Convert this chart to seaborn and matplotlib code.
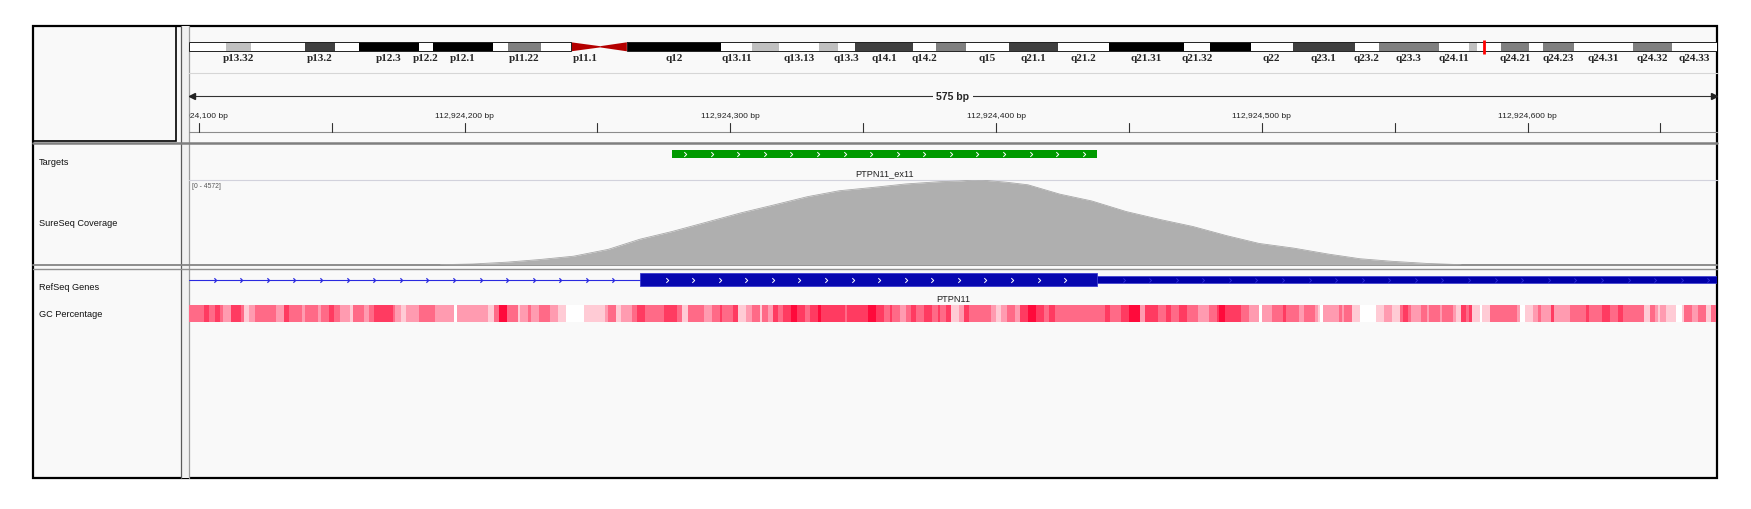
import numpy as np
import matplotlib
matplotlib.use("Agg")
import matplotlib.pyplot as plt
from matplotlib.patches import Rectangle, Polygon
from matplotlib.path import Path
import seaborn as sns

W, H = 1751, 510

# current view on chr12 (bp)
view_start = 112924096.3
view_end = 112924671.3
chrom_len_mb = 133.27

# chr12 cytobands (start in Mb, end = next start)
band_names = ["p13.33", "p13.32", "p13.31", "p13.2", "p13.1", "p12.3", "p12.2", "p12.1",
              "p11.23", "p11.22", "p11.21", "p11.1", "q11", "q12", "q13.11", "q13.12",
              "q13.13", "q13.2", "q13.3", "q14.1", "q14.2", "q14.3", "q15", "q21.1",
              "q21.2", "q21.31", "q21.32", "q21.33", "q22", "q23.1", "q23.2", "q23.3",
              "q24.11", "q24.12", "q24.13", "q24.21", "q24.22", "q24.23", "q24.31",
              "q24.32", "q24.33"]
band_start_mb = [0, 3.27, 5.37, 10.08, 12.77, 14.79, 20.02, 21.26, 26.52, 27.80, 30.68,
                 33.33, 35.86, 38.19, 46.41, 49.11, 51.43, 54.92, 56.58, 58.11, 63.12,
                 65.13, 67.74, 71.55, 75.77, 80.26, 86.76, 89.09, 92.60, 96.27, 101.67,
                 103.77, 109.00, 111.62, 112.36, 114.41, 116.85, 118.07, 120.83, 125.92,
                 129.32]
band_stain = ["gneg", "gpos25", "gneg", "gpos75", "gneg", "gpos100", "gneg", "gpos100",
              "gneg", "gpos50", "gneg", "acen", "acen", "gpos100", "gneg", "gpos25",
              "gneg", "gpos25", "gneg", "gpos75", "gneg", "gpos50", "gneg", "gpos75",
              "gneg", "gpos100", "gneg", "gpos100", "gneg", "gpos75", "gneg", "gpos50",
              "gneg", "gpos25", "gneg", "gpos50", "gneg", "gpos50", "gneg", "gpos50",
              "gneg"]
hidden_labels = ["p13.33", "p13.31", "p13.1", "p11.23", "p11.21", "q11", "q13.12",
                 "q13.2", "q14.3", "q21.33", "q24.12", "q24.13", "q24.22"]

stain_colors = {"gneg": "#ffffff", "gpos25": "#c0c0c0", "gpos50": "#808080",
                "gpos75": "#404040", "gpos100": "#000000", "acen": "#b40000"}

# features
target_name = "PTPN11_ex11"
target_start, target_end = 112924278, 112924438
gene_name = "PTPN11"
exon_start, exon_end = 112924266, 112924438

# coverage (offset from 112,924,100 bp, read depth)
cov_max = 4572
cov_offset = [91, 103, 116, 128, 141, 154, 166, 178, 191, 204, 216, 229, 241, 254, 266,
              279, 286, 293, 304, 312, 324, 336, 349, 362, 374, 387, 399, 412, 425, 437,
              449, 462, 475]
cov_depth = [0, 37, 137, 274, 457, 823, 1372, 1783, 2286, 2789, 3200, 3658, 3978, 4161,
             4343, 4467, 4499, 4572, 4435, 4298, 3795, 3429, 2858, 2423, 2057, 1554, 1143,
             892, 572, 320, 183, 69, 0]

# GC percentage track: (run length in bp, GC bin 0..5) from the view start
gc_runs = [
    (6, 3), (2, 4), (2, 3), (2, 4), (1, 3), (3, 2), (4, 4), (1, 3), (2, 1), (2, 2), (8, 3),
    (3, 2), (2, 4), (5, 3), (1, 2), (5, 3), (1, 2), (3, 3), (2, 4), (2, 3), (4, 2), (1, 1),
    (4, 3), (2, 2), (2, 3), (7, 4), (1, 3), (2, 2), (2, 1), (5, 2), (6, 3), (7, 2), (1, 0),
    (12, 2), (2, 1), (2, 3), (3, 5), (4, 3), (1, 1), (3, 2), (1, 3), (3, 2), (4, 3), (3, 2),
    (3, 1), (7, 0), (8, 1), (1, 2), (3, 3), (2, 1), (4, 2), (2, 3), (3, 4), (7, 3), (5, 4),
    (2, 3), (2, 1), (4, 3),
    (2, 3), (3, 2), (3, 3), (1, 4), (4, 3), (2, 4), (3, 1), (2, 2), (3, 3), (1, 1), (2, 3),
    (2, 2), (2, 4), (2, 3), (3, 4), (2, 5), (3, 4), (2, 3), (3, 4), (1, 5), (9, 4), (1, 3),
    (8, 4), (3, 5), (3, 4), (2, 3), (1, 4), (3, 3), (2, 2), (2, 3), (2, 4), (3, 3), (3, 4),
    (2, 3), (1, 4), (2, 3), (2, 4), (3, 1), (2, 2), (2, 4), (8, 3), (2, 2), (2, 1), (2, 2),
    (3, 3), (2, 2), (3, 4), (3, 5), (3, 4), (2, 3), (2, 4), (19, 3), (2, 4), (4, 3), (3, 4),
    (4, 5), (2, 2), (5, 4), (3, 3), (2, 4), (3, 3), (3, 4), (4, 3), (4, 2),
    (3, 3), (1, 4), (2, 5), (6, 4), (3, 3), (4, 2), (1, 0), (4, 2), (4, 3), (1, 4), (5, 3),
    (2, 2), (4, 3), (1, 2), (1, 1), (1, 0), (6, 2), (1, 3), (1, 2), (3, 3), (3, 1), (6, 0),
    (3, 1), (3, 2), (3, 1), (1, 3), (2, 4), (1, 3), (4, 2), (2, 3), (1, 2), (4, 3), (1, 2),
    (4, 3), (1, 2), (2, 1), (2, 4), (1, 3), (1, 4), (3, 1), (1, 0), (3, 1), (10, 3), (1, 2),
    (2, 0), (3, 1), (2, 2), (1, 3), (4, 2), (1, 4), (6, 2), (6, 3), (1, 4), (5, 3), (3, 4),
    (3, 3), (2, 4), (8, 3), (2, 1), (2, 3), (1, 2), (1, 1), (2, 2), (4, 1), (2, 0), (1, 1),
    (3, 3), (2, 2), (3, 3), (2, 1), (2, 3),
]
gc_colors = {0: "#ffffff", 1: "#ffcbd5", 2: "#ff9bb0", 3: "#ff6a87", 4: "#ff3b61", 5: "#ff0a3b"}

sns.set_style("white")
plt.rcParams["font.family"] = ["Liberation Sans", "DejaVu Sans"]

fig = plt.figure(figsize=(W / 100, H / 100), dpi=100, facecolor="white")


def px_axes(x0, y0, x1, y1):
    ax = fig.add_axes([x0 / W, 1 - y1 / H, (x1 - x0) / W, (y1 - y0) / H])
    ax.set_axis_off()
    return ax


chev = Path([(-0.5, 1), (0.5, 0), (-0.5, -1)], [Path.MOVETO, Path.LINETO, Path.LINETO])

# ---- frame / panels
bg = px_axes(0, 0, W, H)
bg.set_xlim(0, W)
bg.set_ylim(H, 0)
bg.add_patch(Rectangle((33, 27), 1684, 452, facecolor="#f9f9f9", edgecolor="black", lw=1.6))
bg.add_patch(Rectangle((33, 27), 142.5, 115, facecolor="none", edgecolor="black", lw=1.2))
bg.add_patch(Rectangle((181, 27), 7.5, 452, facecolor="#f1f1f1", edgecolor="none"))
bg.plot([180.7, 180.7], [27, 479], color="#5a5a5a", lw=0.9)
bg.plot([188.7, 188.7], [27, 479], color="#9c9c9c", lw=0.9)
bg.plot([189, 1717], [74, 74], color="#d6d6d6", lw=0.8)
bg.plot([189, 1717], [133, 133], color="#8c8c8c", lw=0.8)
bg.plot([33, 1717], [143.5, 143.5], color="#7f7f7f", lw=1.8)
bg.plot([189, 1717], [180.5, 180.5], color="#d2d2dc", lw=0.8)
bg.plot([33, 1717], [266.3, 266.3], color="#858585", lw=1.3)
bg.plot([33, 1717], [269.6, 269.6], color="#8f8f8f", lw=1.0)

for name, y in [("Targets", 162.5), ("SureSeq Coverage", 224), ("RefSeq Genes", 288),
                ("GC Percentage", 315)]:
    bg.text(39, y, name, fontsize=6.6, va="center", ha="left", color="#111111")
bg.text(192, 186.7, f"[0 - {cov_max}]", fontsize=4.9, va="center", ha="left", color="#555555")

# ---- ideogram
ax_i = px_axes(189, 27, 1717, 74)
ax_i.set_xlim(0, chrom_len_mb)
ax_i.set_ylim(74, 27)
band_end_mb = band_start_mb[1:] + [chrom_len_mb]
for name, s, e, st in zip(band_names, band_start_mb, band_end_mb, band_stain):
    if st == "acen":
        if name.startswith("p"):
            pts = [(s, 43.3), (e, 47.2), (e, 48.4), (s, 52.3)]
        else:
            pts = [(s, 47.2), (e, 43.3), (e, 52.3), (s, 48.4)]
        ax_i.add_patch(Polygon(pts, closed=True, facecolor=stain_colors[st], edgecolor="none"))
    else:
        ax_i.add_patch(Rectangle((s, 43.3), e - s, 9, facecolor=stain_colors[st], edgecolor="none"))
    if name not in hidden_labels:
        ax_i.text((s + e) / 2, 58.6, name, ha="center", va="center", fontsize=8.0,
                  family=["Liberation Serif", "DejaVu Serif"], weight="bold")
cen_s = band_start_mb[band_names.index("p11.1")]
cen_e = band_start_mb[band_names.index("q12")]
ax_i.add_patch(Rectangle((0, 43.3), cen_s, 9, fill=False, edgecolor="#222222", lw=0.7))
ax_i.add_patch(Rectangle((cen_e, 43.3), chrom_len_mb - cen_e, 9, fill=False,
                         edgecolor="#222222", lw=0.7))
view_mid_mb = (view_start + view_end) / 2 / 1e6
ax_i.plot([view_mid_mb, view_mid_mb], [41, 54.5], color="#ff0000", lw=2.0,
          solid_capstyle="butt")

# ---- genomic tracks
ax_g = px_axes(189, 27, 1717, 479)
ax_g.set_xlim(view_start, view_end)
ax_g.set_ylim(479, 27)

# ruler
ax_g.plot([view_start, view_end], [97, 97], color="#333333", lw=0.8)
ax_g.plot([view_start + 1.0], [97], marker="<", ms=4.2, color="#222222")
ax_g.plot([view_end - 1.0], [97], marker=">", ms=4.2, color="#222222")
ax_g.text((view_start + view_end) / 2, 97, f"{round(view_end - view_start)} bp",
          ha="center", va="center", fontsize=7.6, weight="bold",
          bbox=dict(facecolor="#f9f9f9", edgecolor="none", pad=2.5))
first_tick = int(np.ceil(view_start / 50) * 50)
for p in range(first_tick, int(view_end), 50):
    ax_g.plot([p, p], [124, 132.5], color="#333333", lw=0.8)
    if p % 100 == 0:
        ax_g.text(p, 117, f"{p:,} bp", ha="center", va="center", fontsize=6.1,
                  color="#222222", clip_on=True)

# targets
ax_g.add_patch(Rectangle((target_start, 151), target_end - target_start, 8,
                         facecolor="#009a00", edgecolor="none"))
tx = np.arange(target_start + 5, target_end - 3, 10)
ax_g.plot(tx, [155] * len(tx), ls="none", marker=chev, ms=3.4, mew=0.7,
          mfc="none", mec="white")
ax_g.text((target_start + target_end) / 2, 174, target_name, ha="center", va="center",
          fontsize=6.6, color="#222222")

# gene
ax_g.plot([view_start, exon_start], [281, 281], color="#2a2ae0", lw=0.8)
ix = np.arange(112924106, exon_start, 10)
ax_g.plot(ix, [281] * len(ix), ls="none", marker=chev, ms=3.2, mew=0.9,
          mfc="none", mec="#2a2ae0")
ax_g.add_patch(Rectangle((exon_end, 276.7), view_end - exon_end + 50, 7.6,
                         facecolor="#0000a8", edgecolor="#3a3ad0", lw=0.5))
ux = np.arange(exon_end + 10, view_end, 10)
ax_g.plot(ux, [280.5] * len(ux), ls="none", marker=chev, ms=3.0, mew=0.6,
          mfc="none", mec="#3030d8")
ax_g.add_patch(Rectangle((exon_start, 274.3), exon_end - exon_start, 12.4,
                         facecolor="#0808b0", edgecolor="#3c3cd0", lw=0.6))
ex = np.arange(exon_start + 10, exon_end - 5, 10)
ax_g.plot(ex, [280.5] * len(ex), ls="none", marker=chev, ms=3.4, mew=0.7,
          mfc="none", mec="white")
ax_g.text((view_start + view_end) / 2, 300, gene_name, ha="center", va="center",
          fontsize=6.6, color="#222222")

# GC percentage
gc_len = np.array([r[0] for r in gc_runs])
gc_level = np.array([r[1] for r in gc_runs])
gc_pos = np.floor(view_start) + np.concatenate([[0], np.cumsum(gc_len)[:-1]])
for lev, col in gc_colors.items():
    m = gc_level == lev
    spans = list(zip(gc_pos[m], gc_len[m]))
    ax_g.broken_barh(spans, (305.7, 17.6), facecolors=col, edgecolor="none")

# ---- coverage
ax_c = px_axes(189, 180.7, 1717, 265.7)
cov_pos = 112924100 + np.array(cov_offset)
ax_c.fill_between(cov_pos, cov_depth, color="#afafaf", lw=0)
sns.lineplot(x=cov_pos, y=cov_depth, ax=ax_c, color="#a8a8a8", lw=0.6)
ax_c.set_xlim(view_start, view_end)
ax_c.set_ylim(0, cov_max)
ax_c.set_axis_off()

fig.savefig("out.png", dpi=100, facecolor="white")
